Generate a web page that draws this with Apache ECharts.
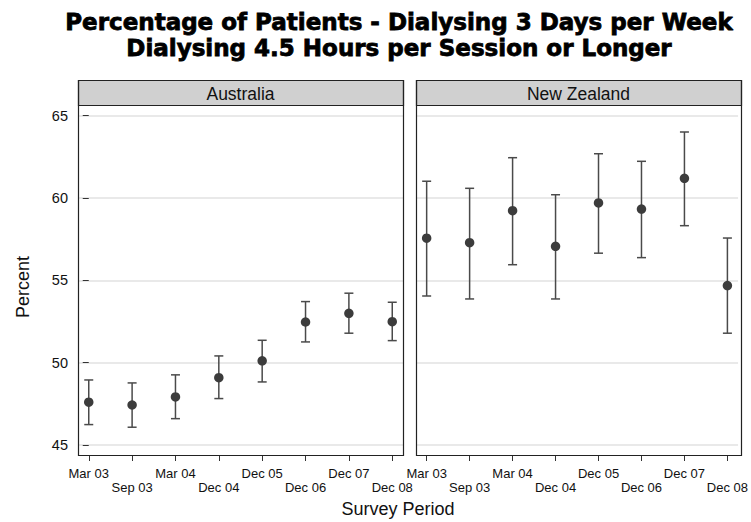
<!DOCTYPE html>
<html>
<head>
<meta charset="utf-8">
<script src="https://cdn.jsdelivr.net/npm/echarts@6/dist/echarts.min.js"></script>
<style>
  html, body { margin: 0; padding: 0; background: #fff; }
  #chart { width: 751px; height: 522px; }
</style>
</head>
<body>
<div id="chart"></div>
<script>
// Survey periods shown on each panel's x axis
const periods = ['Mar 03', 'Sep 03', 'Mar 04', 'Dec 04', 'Dec 05', 'Dec 06', 'Dec 07', 'Dec 08'];

// Panel names
const panels = ['Australia', 'New Zealand'];

// Australia: estimate and 95% interval (percent)
const ausPct  = [47.60, 47.43, 47.92, 49.09, 50.11, 52.47, 53.00, 52.49];
const ausLow  = [46.24, 46.08, 46.60, 47.82, 48.83, 51.26, 51.79, 51.34];
const ausHigh = [48.95, 48.77, 49.26, 50.41, 51.36, 53.71, 54.22, 53.67];

// New Zealand: estimate and 95% interval (percent)
const nzPct  = [57.56, 57.29, 59.23, 57.07, 59.70, 59.33, 61.20, 54.68];
const nzLow  = [54.05, 53.87, 55.95, 53.87, 56.65, 56.38, 58.32, 51.79];
const nzHigh = [61.02, 60.59, 62.45, 60.20, 62.69, 62.23, 64.01, 57.57];

// Y axis tick values
const yTicks = [45, 50, 55, 60, 65];

const titleLines = [
  'Percentage of Patients - Dialysing 3 Days per Week',
  'Dialysing 4.5 Hours per Session or Longer'
];
const xTitle = 'Survey Period';
const yTitle = 'Percent';

const FONT = '"Liberation Sans", Arial, Helvetica, sans-serif';
const INK = '#222';

// panel geometry (frame incl. header strip)
const frames = [
  { left: 78, width: 325 },
  { left: 416, width: 325 }
];
const headerTop = 80, headerH = 25, frameBottom = 455;
const gridTop = 115.7, gridH = 329.3;

const series = [ausPct, nzPct];
const lows = [ausLow, nzLow];
const highs = [ausHigh, nzHigh];

const chart = echarts.init(document.getElementById('chart'), null, { renderer: 'svg' });

const grids = [], xAxes = [], yAxes = [], seriesList = [], graphics = [];

frames.forEach((f, p) => {
  grids.push({ left: f.left, width: f.width, top: gridTop, height: gridH, containLabel: false });

  xAxes.push({
    gridIndex: p,
    type: 'value',
    min: -0.248,
    max: periods.length - 1 + 0.248,
    offset: frameBottom - (gridTop + gridH),
    axisLine: { show: false },
    splitLine: { show: false },
    axisTick: {
      show: true, length: 6, inside: false,
      customValues: periods.map((_, i) => i),
      lineStyle: { color: '#333', width: 1 }
    },
    axisLabel: {
      customValues: periods.map((_, i) => i),
      margin: 11,
      fontFamily: FONT, fontSize: 13, color: '#111', lineHeight: 14.5,
      formatter: v => {
        const i = Math.round(v);
        return i % 2 === 1 ? '\n' + periods[i] : periods[i];
      }
    }
  });

  yAxes.push({
    gridIndex: p,
    type: 'value',
    min: yTicks[0],
    max: yTicks[yTicks.length - 1],
    interval: 5,
    axisLine: { show: false },
    axisTick: { show: p === 0, length: 6, lineStyle: { color: '#333', width: 1 } },
    axisLabel: { show: p === 0, margin: 10, fontFamily: FONT, fontSize: 14.5, color: '#111' },
    splitLine: { show: true, lineStyle: { color: '#e2e2e2', width: 1.5 } }
  });

  // confidence interval bars with end caps
  seriesList.push({
    type: 'custom',
    xAxisIndex: p, yAxisIndex: p,
    data: periods.map((_, i) => [i, lows[p][i], highs[p][i]]),
    clip: false,
    z: 2,
    renderItem: (params, api) => {
      const lo = api.coord([api.value(0), api.value(1)]);
      const hi = api.coord([api.value(0), api.value(2)]);
      const cap = 4.5;
      const style = { stroke: '#4a4a4a', lineWidth: 1.5, fill: 'none' };
      return {
        type: 'group',
        children: [
          { type: 'line', shape: { x1: lo[0], y1: lo[1], x2: hi[0], y2: hi[1] }, style },
          { type: 'line', shape: { x1: lo[0] - cap, y1: lo[1], x2: lo[0] + cap, y2: lo[1] }, style },
          { type: 'line', shape: { x1: hi[0] - cap, y1: hi[1], x2: hi[0] + cap, y2: hi[1] }, style }
        ]
      };
    }
  });

  // point estimates
  seriesList.push({
    type: 'scatter',
    xAxisIndex: p, yAxisIndex: p,
    data: series[p].map((v, i) => [i, v]),
    symbol: 'circle',
    symbolSize: 9.5,
    itemStyle: { color: '#3c3c3c', opacity: 1 },
    z: 3
  });

  // panel frame and header strip
  graphics.push({
    type: 'rect', z: 10, silent: true,
    shape: { x: f.left + 0.5, y: headerTop + 0.5, width: f.width, height: frameBottom - headerTop },
    style: { fill: 'none', stroke: INK, lineWidth: 1.2 }
  });
  graphics.push({
    type: 'rect', z: 9, silent: true,
    shape: { x: f.left + 0.5, y: headerTop + 0.5, width: f.width, height: headerH },
    style: { fill: '#d0d0d0', stroke: INK, lineWidth: 1.2 }
  });
  graphics.push({
    type: 'text', z: 11, silent: true,
    x: f.left + f.width / 2, y: headerTop + headerH / 2 + 1,
    style: {
      text: panels[p], fontFamily: FONT, fontSize: 17.5, fill: '#111',
      textAlign: 'center', textVerticalAlign: 'middle'
    }
  });
});

// main title (heavy weight)
graphics.push({
  type: 'text', silent: true,
  x: 399, y: 9,
  style: {
    text: titleLines.join('\n'),
    fontFamily: '"DejaVu Sans", sans-serif', fontWeight: 'bold', fontSize: 23,
    lineHeight: 26, fill: '#000', stroke: '#000', lineWidth: 0.8,
    textAlign: 'center', textVerticalAlign: 'top'
  }
});

// axis titles
graphics.push({
  type: 'text', silent: true,
  x: 398, y: 509,
  style: { text: xTitle, fontFamily: FONT, fontSize: 18, fill: '#111', textAlign: 'center', textVerticalAlign: 'middle' }
});
graphics.push({
  type: 'text', silent: true,
  x: 23, y: 287, rotation: Math.PI / 2,
  style: { text: yTitle, fontFamily: FONT, fontSize: 18, fill: '#111', textAlign: 'center', textVerticalAlign: 'middle' }
});

chart.setOption({
  animation: false,
  backgroundColor: '#fff',
  grid: grids,
  xAxis: xAxes,
  yAxis: yAxes,
  series: seriesList,
  graphic: graphics
});
</script>
</body>
</html>
